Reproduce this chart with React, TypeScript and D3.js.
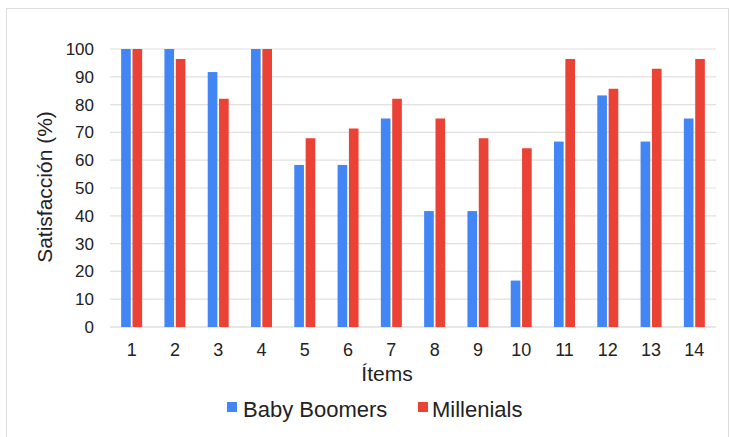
import React from "react";
import * as d3 from "d3";

const items = ["1", "2", "3", "4", "5", "6", "7", "8", "9", "10", "11", "12", "13", "14"];
const seriesNames = ["Baby Boomers", "Millenials"];
const babyBoomers = [100, 100, 91.7, 100, 58.3, 58.3, 75, 41.7, 41.7, 16.7, 66.7, 83.3, 66.7, 75];
const millenials = [100, 96.4, 82.1, 100, 67.9, 71.4, 82.1, 75, 67.9, 64.3, 96.4, 85.7, 92.9, 96.4];
const yTicks = [0, 10, 20, 30, 40, 50, 60, 70, 80, 90, 100];
const colors = ["#4285F4", "#EA4335"];

const W = 731;
const H = 437;
const FONT = "'Liberation Sans', Arial, Helvetica, sans-serif";

export default function App() {
  const plotLeft = 110;
  const plotRight = 716;
  const plotTop = 49;
  const plotBottom = 327;

  const x0 = d3.scaleBand<string>().domain(items).range([plotLeft, plotRight]).paddingInner(0.515).paddingOuter(0.2575);
  const x1 = d3.scaleBand<string>().domain(seriesNames).range([0, x0.bandwidth()]).paddingInner(0.15);
  const y = d3.scaleLinear().domain([0, 100]).range([plotBottom, plotTop]);

  const seriesValues = [babyBoomers, millenials];

  return (
    <svg width={W} height={H} style={{ position: "absolute", left: 0, top: 0, background: "#fff" }} fontFamily={FONT}>
      <rect x={0} y={0} width={W} height={H} fill="#fff" />
      <rect x={6.5} y={8.5} width={722} height={445} fill="none" stroke="#dcdcdc" strokeWidth={1} />

      {yTicks.map((t) => (
        <g key={t}>
          <line x1={plotLeft} x2={plotRight} y1={y(t)} y2={y(t)} stroke={t === 0 ? "#cfcfcf" : "#e0e0e0"} strokeWidth={1.2} />
          <text x={94} y={y(t)} dy="0.35em" textAnchor="end" fontSize={17} fill="#222">
            {t}
          </text>
        </g>
      ))}

      {seriesValues.map((vals, si) =>
        vals.map((v, i) => (
          <rect
            key={`${si}-${i}`}
            x={(x0(items[i]) as number) + (x1(seriesNames[si]) as number)}
            y={y(v)}
            width={x1.bandwidth()}
            height={y(0) - y(v)}
            fill={colors[si]}
          />
        ))
      )}

      {items.map((it) => (
        <text key={it} x={(x0(it) as number) + x0.bandwidth() / 2} y={356} textAnchor="middle" fontSize={18} fill="#222">
          {it}
        </text>
      ))}

      <text x={387} y={381} textAnchor="middle" fontSize={21} fill="#222">
        Ítems
      </text>

      <text transform={`translate(52,187) rotate(-90)`} textAnchor="middle" fontSize={21} fill="#222">
        Satisfacción (%)
      </text>

      <g>
        <rect x={227} y={402} width={10} height={10} fill={colors[0]} />
        <text x={243} y={417} fontSize={22} fill="#222">
          {seriesNames[0]}
        </text>
        <rect x={418} y={402} width={10} height={10} fill={colors[1]} />
        <text x={432} y={417} fontSize={22} fill="#222">
          {seriesNames[1]}
        </text>
      </g>
    </svg>
  );
}
